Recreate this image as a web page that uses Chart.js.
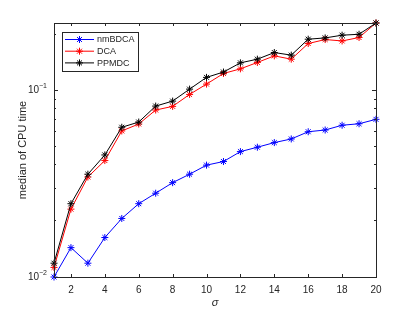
<!DOCTYPE html>
<html>
<head>
<meta charset="utf-8">
<script src="https://cdn.jsdelivr.net/npm/chart.js@4/dist/chart.umd.min.js"></script>
<style>
  html, body { margin: 0; padding: 0; background: #fff; }
  #wrap { width: 415px; height: 312px; }
</style>
</head>
<body>
<div id="wrap"><canvas id="myChart" width="415" height="312"></canvas></div>
<script>
// values
const sigma = [1, 2, 3, 4, 5, 6, 7, 8, 9, 10, 11, 12, 13, 14, 15, 16, 17, 18, 19, 20]
const nmBDCA = [0.00995, 0.0143, 0.0118, 0.0162, 0.0205, 0.0246, 0.0280, 0.0319, 0.0354, 0.0396,
    0.0414, 0.0468, 0.0494, 0.0523, 0.0547, 0.0598, 0.0611, 0.0648, 0.0660, 0.0697]
const DCA = [0.0112, 0.0230, 0.0342, 0.0419, 0.0604, 0.0658, 0.0782, 0.0818, 0.0948, 0.1077,
    0.1228, 0.1300, 0.1407, 0.1526, 0.1465, 0.1777, 0.1867, 0.1835, 0.1914, 0.229]
const PPMDC = [0.0118, 0.0246, 0.0354, 0.0449, 0.0632, 0.0674, 0.0821, 0.0873, 0.1012, 0.1170,
    0.1250, 0.1400, 0.1465, 0.1590, 0.1540, 0.1875, 0.1905, 0.1970, 0.1993, 0.229]
const xTicks = [2, 4, 6, 8, 10, 12, 14, 16, 18, 20]
const yMajor = [0.01, 0.1]
const yMinor = [0.02, 0.03, 0.04, 0.05, 0.06, 0.07, 0.08, 0.09, 0.2]
const seriesNames = ["nmBDCA", "DCA", "PPMDC"]
const seriesColors = ["#0000ff", "#ff0000", "#000000"]

const axisColor = "#262626"
const fontFam = "'Liberation Sans', Arial, sans-serif"

function makeSet(name, values, color, order) {
    return {
        label: name,
        data: sigma.map((s, i) => ({ x: s, y: values[i] })),
        borderColor: color,
        backgroundColor: color,
        borderWidth: 1,
        pointStyle: "star",
        pointRadius: 3.5,
        pointBorderWidth: 1,
        pointBorderColor: color,
        tension: 0,
        clip: false,
        order: order
    }
}

// box, inward ticks, log labels and the legend
const matlabAxes = {
    id: "matlabAxes",
    afterDraw(chart) {
        const ctx = chart.ctx
        const a = chart.chartArea
        const xs = chart.scales.x
        const ys = chart.scales.y
        ctx.save()
        ctx.strokeStyle = axisColor
        ctx.lineWidth = 1
        ctx.strokeRect(Math.round(a.left) + 0.5, Math.round(a.top) + 0.5,
            Math.round(a.right - a.left), Math.round(a.bottom - a.top))

        ctx.beginPath()
        xTicks.forEach(t => {
            const px = Math.round(xs.getPixelForValue(t)) + 0.5
            ctx.moveTo(px, a.bottom); ctx.lineTo(px, a.bottom - 3)
            ctx.moveTo(px, a.top); ctx.lineTo(px, a.top + 3)
        })
        yMajor.forEach(t => {
            const py = Math.round(ys.getPixelForValue(t)) + 0.5
            ctx.moveTo(a.left, py); ctx.lineTo(a.left + 4, py)
            ctx.moveTo(a.right, py); ctx.lineTo(a.right - 4, py)
        })
        yMinor.forEach(t => {
            const py = Math.round(ys.getPixelForValue(t)) + 0.5
            ctx.moveTo(a.left, py); ctx.lineTo(a.left + 2, py)
            ctx.moveTo(a.right, py); ctx.lineTo(a.right - 2, py)
        })
        ctx.stroke()

        // y labels 10^-2, 10^-1
        ctx.fillStyle = axisColor
        ctx.textBaseline = "middle"
        yMajor.forEach(t => {
            const py = ys.getPixelForValue(t)
            const exp = String(Math.round(Math.log10(t))).replace("-", "\u2212")
            ctx.font = "7px " + fontFam
            const ew = ctx.measureText(exp).width
            ctx.textAlign = "right"
            ctx.fillText(exp, a.left - 7, py - 4)
            ctx.font = "10px " + fontFam
            ctx.fillText("10", a.left - 7 - ew, py + 0.5)
        })

        // legend
        const lx = 62, ly = 32, lw = 76, lh = 39
        ctx.fillStyle = "#fff"
        ctx.fillRect(lx, ly, lw, lh)
        ctx.strokeStyle = axisColor
        ctx.strokeRect(lx + 0.5, ly + 0.5, lw, lh)
        ctx.textAlign = "left"
        ctx.font = "9px " + fontFam
        seriesNames.forEach((n, i) => {
            const yy = ly + 7.5 + i * 11.7
            ctx.strokeStyle = seriesColors[i]
            ctx.lineWidth = 1
            ctx.beginPath()
            ctx.moveTo(65, yy); ctx.lineTo(94, yy)
            ctx.stroke()
            Chart.helpers.drawPoint(ctx, { pointStyle: "star", radius: 3.5, borderWidth: 1 }, 79.5, yy)
            ctx.fillStyle = axisColor
            ctx.fillText(n, 97, yy + 0.5)
        })
        ctx.restore()
    }
}

const ctx = document.getElementById("myChart")

new Chart(ctx, {
    type: "line",
    data: {
        datasets: [
            makeSet(seriesNames[0], nmBDCA, seriesColors[0], 2),
            makeSet(seriesNames[1], DCA, seriesColors[1], 1),
            makeSet(seriesNames[2], PPMDC, seriesColors[2], 0)
        ]
    },
    options: {
        responsive: false,
        animation: false,
        events: [],
        layout: { padding: { left: 0, top: 23, right: 39, bottom: 0 } },
        plugins: { legend: { display: false }, tooltip: { enabled: false } },
        scales: {
            x: {
                type: "linear",
                min: 1,
                max: 20,
                afterBuildTicks: s => { s.ticks = xTicks.map(v => ({ value: v })) },
                afterFit: s => { s.height = 35 },
                grid: { display: false },
                border: { display: false },
                ticks: { color: axisColor, font: { family: fontFam, size: 10 }, padding: -1, maxRotation: 0 },
                title: {
                    display: true,
                    text: "σ",
                    color: axisColor,
                    font: { family: fontFam, size: 11, style: "italic" },
                    padding: { top: 0, bottom: 2 }
                }
            },
            y: {
                type: "logarithmic",
                min: 0.00995,
                max: 0.229,
                afterFit: s => { s.width = 54 },
                grid: { display: false },
                border: { display: false },
                ticks: { display: false },
                title: {
                    display: true,
                    text: "median of CPU time",
                    color: axisColor,
                    font: { family: fontFam, size: 11 },
                    padding: { top: 16, bottom: 0 }
                }
            }
        }
    },
    plugins: [matlabAxes]
})
</script>
</body>
</html>
